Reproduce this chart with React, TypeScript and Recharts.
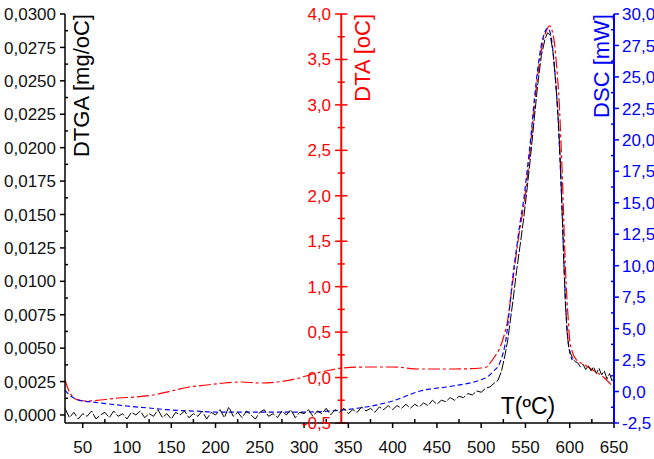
import React from "react";
import { LineChart, Line, XAxis, YAxis, ReferenceLine } from "recharts";

const FONT = "'Liberation Sans', Arial, sans-serif";
const RED = "#ff0000";
const BLUE = "#0000ff";
const BLACK = "#000000";

// tick values
const xTicks = [50, 100, 150, 200, 250, 300, 350, 400, 450, 500, 550, 600, 650];
const dtgaTicks = [0, 0.0025, 0.005, 0.0075, 0.01, 0.0125, 0.015, 0.0175, 0.02, 0.0225, 0.025, 0.0275, 0.03];
const dtaTicks = [-0.5, 0, 0.5, 1, 1.5, 2, 2.5, 3, 3.5, 4];
const dscTicks = [-2.5, 0, 2.5, 5, 7.5, 10, 12.5, 15, 17.5, 20, 22.5, 25, 27.5, 30];

// DTA axis sits inside the plot at this temperature
const DTA_AXIS_T = 342;

// DTGA (black, left axis)
const dtgaT = [
  30, 35, 40, 45, 50, 55, 60, 65, 70, 75,
  80, 85, 90, 95, 100, 105, 110, 115, 120, 125,
  130, 135, 140, 145, 150, 155, 160, 165, 170, 175,
  180, 185, 190, 195, 200, 205, 210, 215, 220, 225,
  230, 235, 240, 245, 250, 255, 260, 265, 270, 275,
  280, 285, 290, 295, 300, 305, 310, 315, 320, 325,
  330, 335, 340, 345, 350, 355, 360, 365, 370, 375,
  380, 385, 390, 395, 400, 405, 410, 415, 420, 425,
  430, 435, 440, 445, 450, 455, 460, 465, 470, 475,
  480, 485, 490, 495,
  500, 505, 510, 515, 519, 523, 527, 530, 533, 536,
  540, 544, 548, 552, 556, 560, 564, 568, 572, 575,
  578, 581, 584, 587, 589, 591, 593, 595, 597, 599,
  601, 603, 606, 609, 612, 615, 618, 621, 624, 627,
  630, 633, 636, 639, 642, 645, 648, 650,
];
const dtgaV = [
  0.0005, -0.0002, 0.0002, -0.0003, 0.0001, -0.0001, 0.0003, -0.0003, 0, 0.0002,
  -0.0002, 0.0003, -0.0001, 0.0001, -0.0003, 0.0002, 0, 0.0003, -0.0002, 0.0001,
  -0.0001, 0.0004, -0.0002, 0.0001, -0.0003, 0.0002, 0, 0.0003, -0.0002, 0.0001,
  -0.0001, 0.0003, -0.0003, 0.0002, 0, 0.0004, -0.0002, 0.0006, -0.0001, 0.0002,
  -0.0002, 0.0003, 0, -0.0003, 0.0002, 0.0004, -0.0001, 0.0001, -0.0002, 0.0003,
  0, 0.0004, -0.0002, 0.0002, 0.0001, 0.0004, -0.0001, 0.0003, 0.0001, 0.0005,
  0, 0.0004, 0.0002, 0.0005, 0.0001, 0.0004, 0.0002, 0.0006, 0.0003, 0.0005,
  0.0002, 0.0006, 0.0004, 0.0007, 0.0004, 0.0007, 0.0005, 0.0008, 0.0005, 0.0008,
  0.0006, 0.0009, 0.0007, 0.0011, 0.0008, 0.0011, 0.001, 0.0013, 0.0011, 0.0014,
  0.0013, 0.0016, 0.0015, 0.0018,
  0.0017, 0.002, 0.0021, 0.0024, 0.0026, 0.0033, 0.0045, 0.0056, 0.0071, 0.0086,
  0.0108, 0.0127, 0.0147, 0.017, 0.0195, 0.0222, 0.0248, 0.0269, 0.0281, 0.0286,
  0.0284, 0.0272, 0.025, 0.0222, 0.0195, 0.016, 0.012, 0.0085, 0.0062, 0.005,
  0.0046, 0.0043, 0.004, 0.0039, 0.0036, 0.0038, 0.0034, 0.0037, 0.0033, 0.0036,
  0.0031, 0.0035, 0.003, 0.0033, 0.0027, 0.0031, 0.0025, 0.0028,
];

// DTA (red, middle axis)
const dtaT = [
  30, 34, 38, 45, 55, 70, 90, 110, 130, 150, 170, 190, 210, 230, 250, 270, 290, 310, 330, 342,
  370, 400, 431, 470, 500, 506, 510, 515, 521, 526, 530, 533, 537, 541, 545, 549, 553, 557, 561, 565,
  569, 573, 577, 580, 583, 586, 588, 590, 592, 594, 596, 598, 600, 603, 608, 615, 626, 638, 650,
];
const dtaV = [
  -0.027, -0.137, -0.203, -0.247, -0.258, -0.247, -0.225, -0.214, -0.192, -0.148, -0.104, -0.082, -0.06, -0.049, -0.06, -0.049, -0.016, 0.039, 0.083, 0.105,
  0.116, 0.116, 0.094, 0.094, 0.105, 0.116, 0.16, 0.226, 0.325, 0.468, 0.633, 0.853, 1.16, 1.46, 1.71, 1.95, 2.28, 2.67, 3.08, 3.41,
  3.66, 3.8, 3.87, 3.82, 3.66, 3.33, 3.05, 2.61, 2.12, 1.51, 1.02, 0.69, 0.41, 0.28, 0.19, 0.15, 0.083, 0.006, -0.115,
];

// DSC (blue, right axis)
const dscT = [
  30, 35, 40, 50, 60, 80, 100, 125, 150, 175, 200, 250, 300, 342, 370, 400, 431, 468, 499, 507,
  514, 521, 529, 533, 536, 540, 544, 548, 552, 556, 560, 564, 568, 572, 575, 578, 581, 584, 586, 588,
  590, 592, 594, 596, 598, 600, 603,
];
const dscV = [
  0.12, -0.28, -0.51, -0.75, -0.83, -0.99, -1.15, -1.31, -1.47, -1.55, -1.63, -1.63, -1.63, -1.47, -1.23, -0.75, 0.04, 0.44, 0.92, 1.16,
  1.63, 2.27, 4.65, 7.27, 9.26, 11.41, 13.47, 15.22, 17.6, 20.15, 23.17, 25.71, 27.54, 28.57, 28.89, 28.49, 27.14, 24.75, 22.77, 19.99,
  16.81, 13.23, 9.26, 6.08, 4.1, 3.14, 2.51,
];

const toRows = (t: number[], v: number[]) => t.map((x, i) => ({ t: x, v: v[i] }));
const dtgaData = toRows(dtgaT, dtgaV);
const dtaData = toRows(dtaT, dtaV);
const dscData = toRows(dscT, dscV);

const midpoints = (a: number[]) => a.slice(1).map((v, i) => (v + a[i]) / 2);
const isMajor = (v: number, majors: number[]) => majors.some((m) => Math.abs(m - v) < 1e-9);
const comma = (v: number, d: number) => v.toFixed(d).replace(".", ",");

const XTick = (props: any) => {
  const { x, y, payload } = props;
  const major = isMajor(payload.value, xTicks);
  return (
    <g>
      <line x1={x} x2={x} y1={y} y2={major ? y + 5 : y - 4} stroke={BLACK} strokeWidth={1.5} />
      {major && (
        <text x={x} y={y + 30} textAnchor="middle" fontSize={17} fontFamily={FONT} fill="#111">
          {payload.value}
        </text>
      )}
    </g>
  );
};

const LeftTick = (props: any) => {
  const { x, y, payload } = props;
  const major = isMajor(payload.value, dtgaTicks);
  return (
    <g>
      <line x1={major ? x - 5 : x} x2={major ? x : x + 3} y1={y} y2={y} stroke={BLACK} strokeWidth={1.5} />
      {major && (
        <text x={x - 9} y={y} dy="0.36em" textAnchor="end" fontSize={17} fontFamily={FONT} fill="#111">
          {comma(payload.value, 4)}
        </text>
      )}
    </g>
  );
};

const RightTick = (props: any) => {
  const { x, y, payload } = props;
  const major = isMajor(payload.value, dscTicks);
  return (
    <g>
      <line x1={major ? x : x - 3} x2={major ? x + 5 : x} y1={y} y2={y} stroke={BLUE} strokeWidth={1.5} />
      {major && (
        <text x={x + 8} y={y} dy="0.36em" textAnchor="start" fontSize={17} fontFamily={FONT} fill={BLUE}>
          {comma(payload.value, 1)}
        </text>
      )}
    </g>
  );
};

export default function App() {
  return (
    <div style={{ position: "absolute", left: 0, top: 0, width: 654, height: 459, background: "#fff" }}>
      <LineChart
        width={654}
        height={459}
        margin={{ top: 14, right: 0, bottom: 0, left: 0 }}
        style={{ fontFamily: FONT }}
      >
        <XAxis
          dataKey="t"
          type="number"
          domain={[30, 650]}
          ticks={[...xTicks, ...midpoints(xTicks)].sort((a, b) => a - b)}
          interval={0}
          height={36}
          tickSize={0}
          tickMargin={0}
          tickLine={false}
          axisLine={{ stroke: BLACK, strokeWidth: 1.5 }}
          tick={<XTick />}
          allowDataOverflow
        />
        <YAxis
          yAxisId="dtga"
          orientation="left"
          type="number"
          domain={[-0.0006, 0.03]}
          ticks={[...dtgaTicks, ...midpoints(dtgaTicks)].sort((a, b) => a - b)}
          interval={0}
          width={65}
          tickSize={0}
          tickMargin={0}
          tickLine={false}
          axisLine={{ stroke: BLACK, strokeWidth: 1.5 }}
          tick={<LeftTick />}
          allowDataOverflow
        />
        <YAxis
          yAxisId="dsc"
          orientation="right"
          type="number"
          domain={[-2.5, 30]}
          ticks={[...dscTicks, ...midpoints(dscTicks)].sort((a, b) => a - b)}
          interval={0}
          width={40}
          tickSize={0}
          tickMargin={0}
          tickLine={false}
          axisLine={{ stroke: BLUE, strokeWidth: 2 }}
          tick={<RightTick />}
          allowDataOverflow
        />
        <YAxis yAxisId="dta" orientation="left" type="number" domain={[-0.5, 4]} width={0} hide allowDataOverflow />

        <ReferenceLine x={DTA_AXIS_T} yAxisId="dta" stroke={RED} strokeWidth={2} />
        {dtaTicks.map((v) => (
          <ReferenceLine
            key={`dta-${v}`}
            yAxisId="dta"
            segment={[
              { x: DTA_AXIS_T - 7, y: v },
              { x: DTA_AXIS_T + 7, y: v },
            ]}
            stroke={RED}
            strokeWidth={1.5}
            ifOverflow="visible"
            label={{ value: comma(v, 1), position: "left", offset: 4, fill: RED, fontSize: 17, fontFamily: FONT }}
          />
        ))}
        {midpoints(dtaTicks).map((v) => (
          <ReferenceLine
            key={`dta-m-${v}`}
            yAxisId="dta"
            segment={[
              { x: DTA_AXIS_T - 4, y: v },
              { x: DTA_AXIS_T + 4, y: v },
            ]}
            stroke={RED}
            strokeWidth={1.5}
          />
        ))}

        <Line
          yAxisId="dta"
          data={dtaData}
          dataKey="v"
          type="monotone"
          stroke={RED}
          strokeWidth={1.2}
          strokeDasharray="12 3 3 3"
          dot={false}
          isAnimationActive={false}
        />
        <Line
          yAxisId="dsc"
          data={dscData}
          dataKey="v"
          type="monotone"
          stroke={BLUE}
          strokeWidth={1.2}
          strokeDasharray="5 3"
          dot={false}
          isAnimationActive={false}
        />
        <Line
          yAxisId="dtga"
          data={dtgaData}
          dataKey="v"
          type="linear"
          stroke={BLACK}
          strokeWidth={1}
          strokeDasharray="10 2"
          dot={false}
          isAnimationActive={false}
        />
      </LineChart>
      <svg
        width={654}
        height={459}
        style={{ position: "absolute", left: 0, top: 0, pointerEvents: "none" }}
        fontFamily={FONT}
      >
        <text x={89} y={14} transform="rotate(-90 89 14)" textAnchor="end" fontSize={22} fill={BLACK}>
          DTGA [mg/oC]
        </text>
        <text x={370} y={14} transform="rotate(-90 370 14)" textAnchor="end" fontSize={22} fill={RED}>
          DTA [oC]
        </text>
        <text x={609} y={14} transform="rotate(-90 609 14)" textAnchor="end" fontSize={22} fill={BLUE}>
          DSC [mW]
        </text>
        <text x={528} y={414} textAnchor="middle" fontSize={23} fill={BLACK}>
          T(ºC)
        </text>
      </svg>
    </div>
  );
}
